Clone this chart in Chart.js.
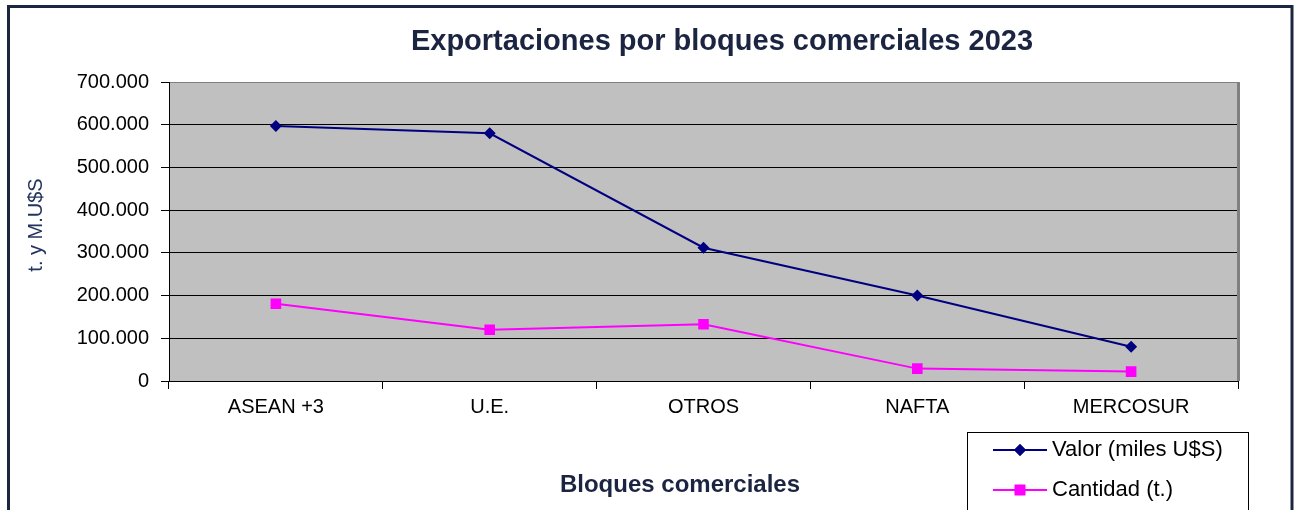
<!DOCTYPE html>
<html>
<head>
<meta charset="utf-8">
<script src="https://cdn.jsdelivr.net/npm/chart.js@4.4.0/dist/chart.umd.min.js"></script>
<style>
  html, body { margin: 0; padding: 0; background: #fff; }
  #wrap { width: 1294px; height: 510px; position: relative; }
</style>
</head>
<body>
<div id="wrap"><canvas id="chart" width="1294" height="510"></canvas></div>
<script>
// data
const categories = ['ASEAN +3', 'U.E.', 'OTROS', 'NAFTA', 'MERCOSUR'];
const valor = [597000, 580000, 312000, 200000, 80000];
const cantidad = [181000, 120000, 133000, 29000, 22000];
const yTickLabels = ['0', '100.000', '200.000', '300.000', '400.000', '500.000', '600.000', '700.000'];
const seriesNames = ['Valor (miles U$S)', 'Cantidad (t.)'];

const FONT = 'Liberation Sans, Arial, sans-serif';
const NAVY = '#000080';
const MAGENTA = '#FF00FF';

// plot background, frame, titles and the boxed legend
const decor = {
    id: 'decor',
    beforeDraw(chart) {
        const { ctx, chartArea: a } = chart;
        ctx.save();
        ctx.fillStyle = '#C0C0C0';
        ctx.fillRect(a.left, a.top, a.right - a.left, a.bottom - a.top);
        ctx.restore();
    },
    afterDraw(chart) {
        const { ctx, chartArea: a } = chart;
        ctx.save();
        // right edge of plot (grey shadow)
        ctx.strokeStyle = '#808080';
        ctx.lineWidth = 3;
        ctx.beginPath();
        ctx.moveTo(a.right + 0.5, a.top);
        ctx.lineTo(a.right + 0.5, a.bottom);
        ctx.stroke();

        // outer frame
        ctx.strokeStyle = '#1B2642';
        ctx.lineWidth = 3;
        ctx.strokeRect(8.5, 6.5, 1283.5, 520);

        // main title
        ctx.fillStyle = '#1B2440';
        ctx.font = 'bold 29px ' + FONT;
        ctx.textAlign = 'center';
        ctx.textBaseline = 'middle';
        ctx.fillText('Exportaciones por bloques comerciales 2023', 722, 42);

        // x axis title
        ctx.font = 'bold 24px ' + FONT;
        ctx.fillText('Bloques comerciales', 680, 485);

        // y axis title
        ctx.save();
        ctx.translate(36, 225);
        ctx.rotate(-Math.PI / 2);
        ctx.fillStyle = '#25345E';
        ctx.font = '20px ' + FONT;
        ctx.fillText('t. y M.U$S', 0, 0);
        ctx.restore();

        // legend box
        ctx.strokeStyle = '#000';
        ctx.lineWidth = 1;
        ctx.strokeRect(967.5, 432.5, 281, 90);
        const rows = [
            { y: 450, color: NAVY, style: 'rectRot', r: 6 },
            { y: 490, color: MAGENTA, style: 'rect', r: 7.5 }
        ];
        rows.forEach((row, i) => {
            ctx.strokeStyle = row.color;
            ctx.lineWidth = 2;
            ctx.beginPath();
            ctx.moveTo(993, row.y);
            ctx.lineTo(1047, row.y);
            ctx.stroke();
            ctx.fillStyle = row.color;
            Chart.helpers.drawPoint(ctx, { pointStyle: row.style, radius: row.r, rotation: 0, borderWidth: 0 }, 1020, row.y);
            ctx.fill();
            ctx.fillStyle = '#000';
            ctx.font = '22px ' + FONT;
            ctx.textAlign = 'left';
            ctx.textBaseline = 'middle';
            ctx.fillText(seriesNames[i], 1052, row.y);
        });
        ctx.restore();
    }
};

new Chart(document.getElementById('chart').getContext('2d'), {
    type: 'line',
    data: {
        labels: categories,
        datasets: [
            {
                label: seriesNames[0],
                data: valor,
                borderColor: NAVY,
                backgroundColor: NAVY,
                borderWidth: 2,
                pointStyle: 'rectRot',
                pointRadius: 6,
                pointBorderWidth: 0,
                tension: 0,
            },
            {
                label: seriesNames[1],
                data: cantidad,
                borderColor: MAGENTA,
                backgroundColor: MAGENTA,
                borderWidth: 2,
                pointStyle: 'rect',
                pointRadius: 7.5,
                pointBorderWidth: 0,
                tension: 0,
            },
        ],
    },
    options: {
        responsive: false,
        animation: false,
        layout: { padding: { left: 0, right: 56, top: 82, bottom: 0 } },
        plugins: {
            legend: { display: false },
            title: { display: false },
            tooltip: { enabled: false },
        },
        scales: {
            x: {
                offset: true,
                grid: {
                    offset: true,
                    drawOnChartArea: false,
                    drawTicks: true,
                    tickLength: 8,
                    color: '#000',
                },
                border: { color: '#000', width: 1 },
                ticks: {
                    color: '#000',
                    padding: 6,
                    font: { family: FONT, size: 20 },
                    maxRotation: 0,
                    autoSkip: false,
                },
                afterFit(scale) { scale.height = 129; },
            },
            y: {
                min: 0,
                max: 700000,
                grid: {
                    color: (c) => (c.tick && c.tick.value === 700000 ? '#808080' : '#000'),
                    tickColor: '#000',
                    tickLength: 8,
                    drawTicks: true,
                },
                border: { color: '#000', width: 1 },
                ticks: {
                    stepSize: 100000,
                    color: '#000',
                    padding: 12,
                    font: { family: FONT, size: 20 },
                    callback: (v, i) => yTickLabels[i],
                },
                afterFit(scale) { scale.width = 169; },
            },
        },
    },
    plugins: [decor],
});
</script>
</body>
</html>
